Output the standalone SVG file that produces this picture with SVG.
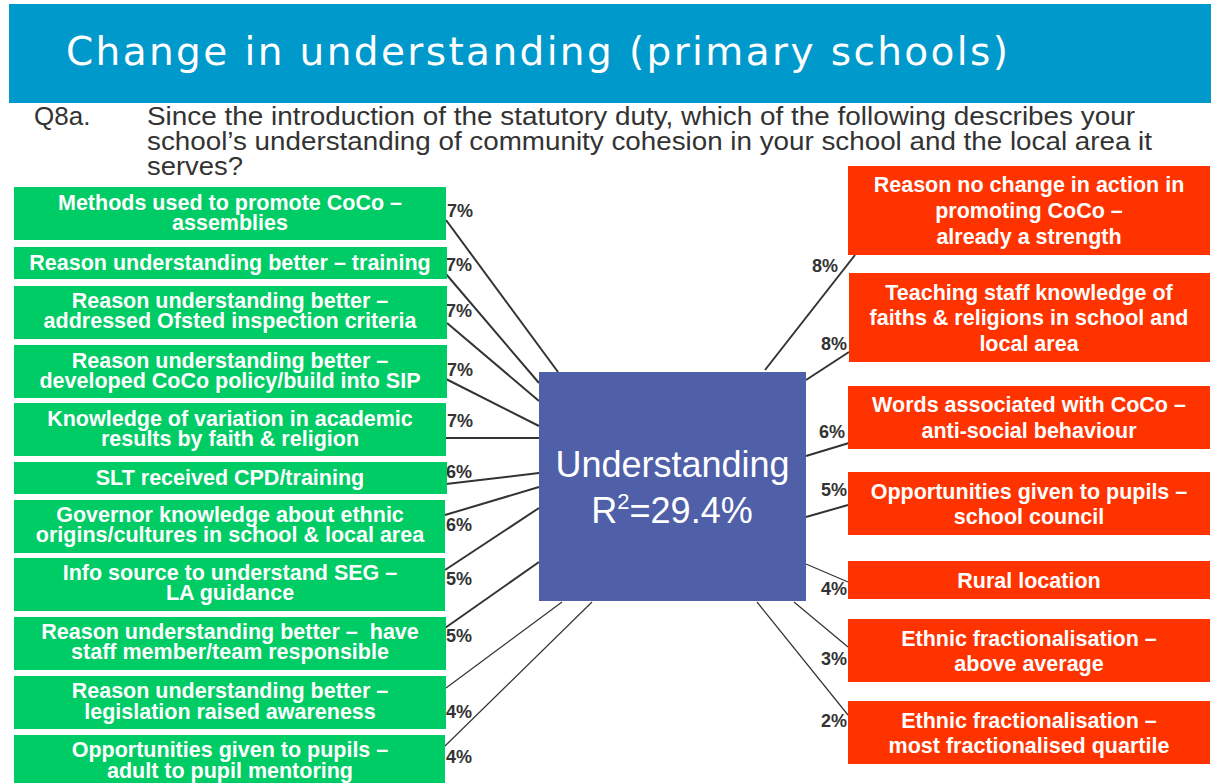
<svg xmlns="http://www.w3.org/2000/svg" width="1211" height="783" viewBox="0 0 1211 783">
<style>
.bar{fill:#0099CC}
.q{font-family:"Liberation Sans",Arial,sans-serif;font-size:26px;fill:#333333}
.gb{fill:#00CC66}
.rb{fill:#FF3300}
.bt{font-family:"Liberation Sans",Arial,sans-serif;font-size:21.5px;font-weight:bold;fill:#FFFFFF;text-anchor:middle}
.pc{font-family:"Liberation Sans",Arial,sans-serif;font-size:18px;font-weight:bold;fill:#333333}
.ln{stroke:#333333;stroke-width:2;fill:none}
.lt{stroke:#333333;stroke-width:1.2;fill:none}
.ct{font-family:"Liberation Sans",Arial,sans-serif;fill:#FFFFFF;text-anchor:middle}
</style>
<rect width="1211" height="783" fill="#FFFFFF"/>
<g id="header">
<rect class="bar" x="9" y="4" width="1202" height="99"/>
<text x="66" y="65" font-family="'DejaVu Sans',Verdana,sans-serif" font-size="39" fill="#FFFFFF" textLength="942" lengthAdjust="spacing">Change in understanding (primary schools)</text>
<text class="q" x="34" y="125">Q8a.</text>
<text class="q" x="147" y="125" textLength="988" lengthAdjust="spacingAndGlyphs">Since the introduction of the statutory duty, which of the following describes your</text>
<text class="q" x="147" y="150" textLength="1005" lengthAdjust="spacingAndGlyphs">school’s understanding of community cohesion in your school and the local area it</text>
<text class="q" x="147" y="175" textLength="96" lengthAdjust="spacingAndGlyphs">serves?</text>
</g>
<g id="connectors">
<line class="ln" x1="446" y1="220" x2="558" y2="372"/>
<line class="ln" x1="446" y1="274" x2="539" y2="383"/>
<line class="ln" x1="447" y1="323" x2="539" y2="401"/>
<line class="ln" x1="446" y1="379" x2="539" y2="426"/>
<line class="ln" x1="446" y1="438" x2="543" y2="438"/>
<line class="ln" x1="446" y1="484" x2="539" y2="473"/>
<line class="ln" x1="445" y1="515" x2="539" y2="487"/>
<line class="ln" x1="445" y1="570" x2="539" y2="508"/>
<line class="ln" x1="445" y1="628" x2="539" y2="562"/>
<line class="lt" x1="446" y1="688" x2="562" y2="602"/>
<line class="lt" x1="445" y1="746" x2="592" y2="602"/>
<line class="ln" x1="765" y1="370" x2="855" y2="255"/>
<line class="ln" x1="806" y1="380" x2="849" y2="352"/>
<line class="ln" x1="806" y1="456" x2="849" y2="443"/>
<line class="ln" x1="806" y1="517" x2="848" y2="505"/>
<line class="lt" x1="806" y1="564" x2="848" y2="582"/>
<line class="lt" x1="794" y1="602" x2="848" y2="647"/>
<line class="lt" x1="757" y1="602" x2="848" y2="715"/>
</g>
<g id="weights">
<text class="pc" x="447" y="217">7%</text>
<text class="pc" x="446" y="271">7%</text>
<text class="pc" x="446" y="317">7%</text>
<text class="pc" x="447" y="376">7%</text>
<text class="pc" x="447" y="427">7%</text>
<text class="pc" x="446" y="478">6%</text>
<text class="pc" x="446" y="531">6%</text>
<text class="pc" x="446" y="585">5%</text>
<text class="pc" x="446" y="642">5%</text>
<text class="pc" x="446" y="718">4%</text>
<text class="pc" x="446" y="763">4%</text>
<text class="pc" x="812" y="272">8%</text>
<text class="pc" x="821" y="350">8%</text>
<text class="pc" x="819" y="438">6%</text>
<text class="pc" x="821" y="496">5%</text>
<text class="pc" x="821" y="595">4%</text>
<text class="pc" x="821" y="665">3%</text>
<text class="pc" x="821" y="727">2%</text>
</g>
<g id="center">
<rect x="539" y="372" width="267" height="229" fill="#4F60A8"/>
<text class="ct" x="672.5" y="477" font-size="36">Understanding</text>
<text class="ct" x="672" y="523" font-size="36">R<tspan font-size="22" dy="-14">2</tspan><tspan dy="14">=29.4%</tspan></text>
</g>
<g id="l1"><rect class="gb" x="14" y="187" width="432" height="53"/><text class="bt" x="230" y="210">Methods used to promote CoCo –</text><text class="bt" x="230" y="229.5">assemblies</text></g>
<g id="l2"><rect class="gb" x="14" y="247" width="433" height="32"/><text class="bt" x="230" y="270">Reason understanding better – training</text></g>
<g id="l3"><rect class="gb" x="14" y="286" width="433" height="53"/><text class="bt" x="230" y="308">Reason understanding better –</text><text class="bt" x="230" y="328">addressed Ofsted inspection criteria</text></g>
<g id="l4"><rect class="gb" x="14" y="345" width="433" height="53"/><text class="bt" x="230" y="367.5">Reason understanding better –</text><text class="bt" x="230" y="387.5">developed CoCo policy/build into SIP</text></g>
<g id="l5"><rect class="gb" x="14" y="403" width="432" height="53"/><text class="bt" x="230" y="425.5">Knowledge of variation in academic</text><text class="bt" x="230" y="445.5">results by faith &amp; religion</text></g>
<g id="l6"><rect class="gb" x="14" y="462" width="433" height="32"/><text class="bt" x="230" y="484.5">SLT received CPD/training</text></g>
<g id="l7"><rect class="gb" x="14" y="500" width="431" height="53"/><text class="bt" x="230" y="521.5">Governor knowledge about ethnic</text><text class="bt" x="230" y="542">origins/cultures in school &amp; local area</text></g>
<g id="l8"><rect class="gb" x="14" y="558" width="431" height="53"/><text class="bt" x="230" y="579.5">Info source to understand SEG –</text><text class="bt" x="230" y="600">LA guidance</text></g>
<g id="l9"><rect class="gb" x="14" y="617" width="432" height="53"/><text class="bt" x="230" y="638.5" style="white-space:pre">Reason understanding better –  have</text><text class="bt" x="230" y="659">staff member/team responsible</text></g>
<g id="l10"><rect class="gb" x="14" y="676" width="432" height="53"/><text class="bt" x="230" y="698">Reason understanding better –</text><text class="bt" x="230" y="718.5">legislation raised awareness</text></g>
<g id="l11"><rect class="gb" x="14" y="735" width="431" height="48"/><text class="bt" x="230" y="756.5">Opportunities given to pupils –</text><text class="bt" x="230" y="777.5">adult to pupil mentoring</text></g>
<g id="r1"><rect class="rb" x="848" y="166" width="362" height="89"/><text class="bt" x="1029" y="192">Reason no change in action in</text><text class="bt" x="1029" y="217.5">promoting CoCo –</text><text class="bt" x="1029" y="243.5">already a strength</text></g>
<g id="r2"><rect class="rb" x="849" y="273" width="361" height="89"/><text class="bt" x="1029" y="299.5">Teaching staff knowledge of</text><text class="bt" x="1029" y="325">faiths &amp; religions in school and</text><text class="bt" x="1029" y="350.5">local area</text></g>
<g id="r3"><rect class="rb" x="848" y="386" width="362" height="63"/><text class="bt" x="1029" y="411.5">Words associated with CoCo –</text><text class="bt" x="1029" y="437.5">anti-social behaviour</text></g>
<g id="r4"><rect class="rb" x="848" y="472" width="362" height="63"/><text class="bt" x="1029" y="499">Opportunities given to pupils –</text><text class="bt" x="1029" y="523.5">school council</text></g>
<g id="r5"><rect class="rb" x="848" y="561" width="362" height="38"/><text class="bt" x="1029" y="587.5">Rural location</text></g>
<g id="r6"><rect class="rb" x="848" y="619" width="362" height="63"/><text class="bt" x="1029" y="645.5">Ethnic fractionalisation –</text><text class="bt" x="1029" y="671">above average</text></g>
<g id="r7"><rect class="rb" x="848" y="701" width="362" height="63"/><text class="bt" x="1029" y="727.5">Ethnic fractionalisation –</text><text class="bt" x="1029" y="753">most fractionalised quartile</text></g>
</svg>
